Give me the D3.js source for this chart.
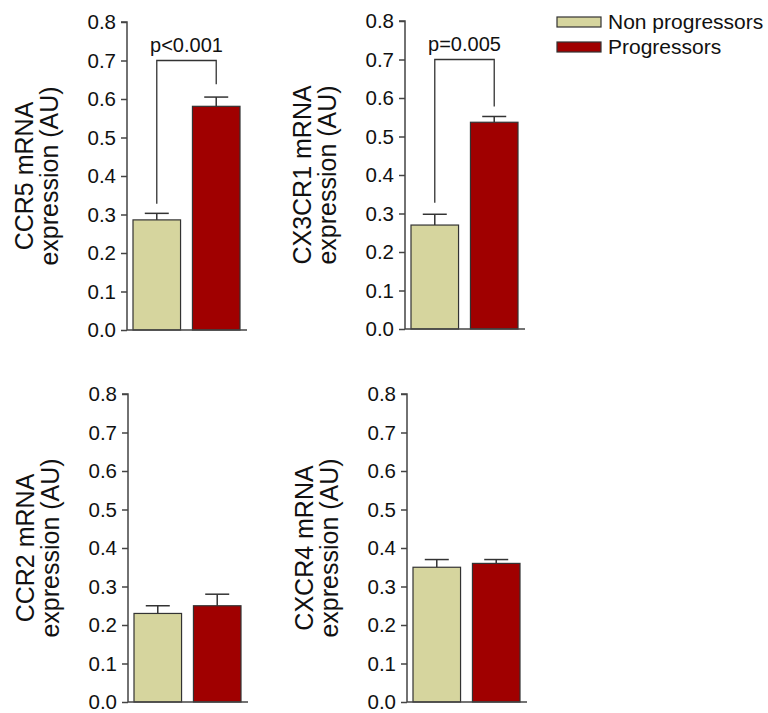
<!DOCTYPE html>
<html>
<head>
<meta charset="utf-8">
<script src="https://cdn.jsdelivr.net/npm/d3@7"></script>
<style>
  body { margin: 0; background: #fff; }
  svg { display: block; font-family: "Liberation Sans", Arial, sans-serif; }
</style>
</head>
<body>
<div id="chart"></div>
<script>
const WIDTH = 768;
const HEIGHT = 713;

// --------------- data ---------------
const genes = ["CCR5", "CX3CR1", "CCR2", "CXCR4"];
const groups = ["Non progressors", "Progressors"];
const nonProgressors = [0.286, 0.27, 0.23, 0.35];
const nonProgressorsErr = [0.017, 0.028, 0.02, 0.02];
const progressors = [0.581, 0.537, 0.25, 0.36];
const progressorsErr = [0.024, 0.015, 0.03, 0.01];
const pLabels = ["p<0.001", "p=0.005", null, null];
const bracketTop = [0.70, 0.70, null, null];
const bracketLeftEnd = [0.328, 0.328, null, null];
const bracketRightEnd = [0.638, 0.578, null, null];
const yTicks = [0, 0.1, 0.2, 0.3, 0.4, 0.5, 0.6, 0.7, 0.8];

const COLORS = ["#d6d59e", "#a00000"];
const STROKE = "#333";
const AXIS = "#444";

// panel placement (axis origin of each small chart)
const panels = [
  { left: 127, top: 22 },
  { left: 405, top: 21 },
  { left: 128, top: 394 },
  { left: 407, top: 394 }
];
const PLOT_W = 120;
const PLOT_H = 308;

const svg = d3.select("#chart")
  .append("svg")
  .attr("width", WIDTH)
  .attr("height", HEIGHT);

const y = d3.scaleLinear().domain([0, 0.8]).range([PLOT_H, 0]);
const x = d3.scaleBand().domain(groups).range([6, 113]).paddingInner(0.2);

genes.forEach((gene, i) => {
  const g = svg.append("g")
    .attr("transform", `translate(${panels[i].left},${panels[i].top})`);

  const vals = [nonProgressors[i], progressors[i]];
  const errs = [nonProgressorsErr[i], progressorsErr[i]];
  const rows = groups.map((grp, j) => ({ grp, v: vals[j], e: errs[j], c: COLORS[j] }));

  // error bars (upper only)
  const cx = d => x(d.grp) + x.bandwidth() / 2;
  g.selectAll("line.err")
    .data(rows)
    .enter()
    .append("line")
    .attr("x1", cx).attr("x2", cx)
    .attr("y1", d => y(d.v)).attr("y2", d => y(d.v + d.e))
    .attr("stroke", STROKE).attr("stroke-width", 1.5);
  g.selectAll("line.cap")
    .data(rows)
    .enter()
    .append("line")
    .attr("x1", d => cx(d) - 12).attr("x2", d => cx(d) + 12)
    .attr("y1", d => y(d.v + d.e)).attr("y2", d => y(d.v + d.e))
    .attr("stroke", STROKE).attr("stroke-width", 1.5);

  // bars
  g.selectAll("rect.bar")
    .data(rows)
    .enter()
    .append("rect")
    .attr("x", d => x(d.grp))
    .attr("width", x.bandwidth())
    .attr("y", d => y(d.v))
    .attr("height", d => y(0) - y(d.v))
    .attr("fill", d => d.c)
    .attr("stroke", STROKE)
    .attr("stroke-width", 1.2);

  // y axis
  const yAxis = g.append("g")
    .call(d3.axisLeft(y).tickValues(yTicks).tickFormat(d3.format(".1f")).tickSize(6).tickPadding(5));
  yAxis.select(".domain").attr("d", `M-6,0H0V${PLOT_H}`).attr("stroke", AXIS).attr("stroke-width", 1.5);
  yAxis.selectAll(".tick line").attr("stroke", AXIS).attr("stroke-width", 1.5);
  yAxis.selectAll(".tick text")
    .attr("font-size", 20.5)
    .attr("fill", "#111")
    .attr("font-family", "Liberation Sans, Arial, sans-serif");

  // x baseline
  g.append("line")
    .attr("x1", 0).attr("x2", PLOT_W)
    .attr("y1", y(0)).attr("y2", y(0))
    .attr("stroke", AXIS).attr("stroke-width", 1.5);

  // y title (two lines)
  const title = g.append("text")
    .attr("transform", `translate(-94,${PLOT_H / 2}) rotate(-90)`)
    .attr("text-anchor", "middle")
    .attr("font-size", 25)
    .attr("fill", "#111");
  title.append("tspan").attr("x", 0).attr("dy", 0).text(`${gene} mRNA`);
  title.append("tspan").attr("x", 0).attr("dy", 24.5).text("expression (AU)");

  // significance bracket
  if (pLabels[i]) {
    const xl = cx(rows[0]), xr = cx(rows[1]);
    g.append("path")
      .attr("d", `M${xl},${y(bracketLeftEnd[i])}V${y(bracketTop[i])}H${xr}V${y(bracketRightEnd[i])}`)
      .attr("fill", "none")
      .attr("stroke", STROKE)
      .attr("stroke-width", 1.3);
    g.append("text")
      .attr("x", (xl + xr) / 2)
      .attr("y", y(bracketTop[i]) - 9)
      .attr("text-anchor", "middle")
      .attr("font-size", 20)
      .attr("fill", "#111")
      .text(pLabels[i]);
  }
});

// legend
const legend = svg.append("g").attr("transform", "translate(557,17)");
groups.forEach((grp, j) => {
  const row = legend.append("g").attr("transform", `translate(0,${j * 25})`);
  row.append("rect")
    .attr("width", 44).attr("height", 10)
    .attr("fill", COLORS[j])
    .attr("stroke", STROKE).attr("stroke-width", 1.2);
  row.append("text")
    .attr("x", 51).attr("y", 12)
    .attr("font-size", 21)
    .attr("fill", "#111")
    .text(grp);
});
</script>
</body>
</html>
